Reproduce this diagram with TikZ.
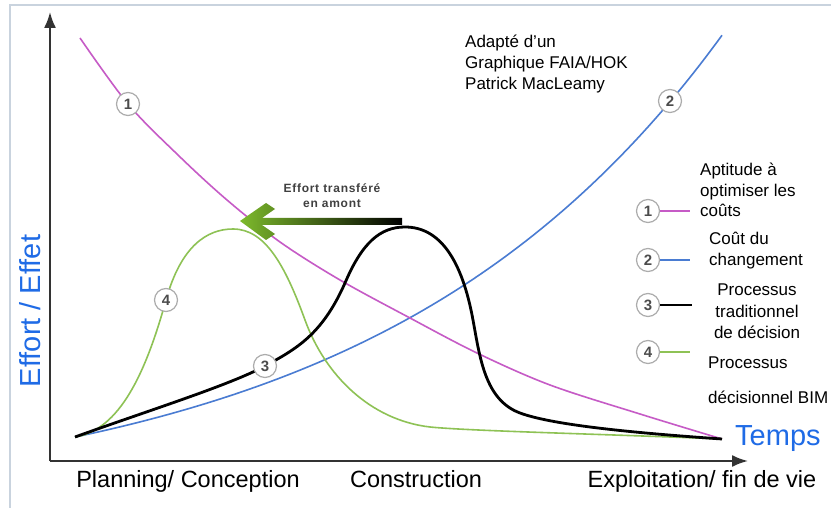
\documentclass[tikz,border=0pt]{standalone}
\usepackage{fontspec}
\setmainfont{Liberation Sans}
\usepackage{tikz}
\usetikzlibrary{arrows.meta}
\usetikzlibrary{positioning}
\usetikzlibrary{shadings}
\definecolor{courbeun}{HTML}{C65BC6}
\definecolor{courbedeux}{HTML}{4A7CD2}
\definecolor{courbequatre}{HTML}{8EC255}
\definecolor{bleutexte}{HTML}{1F6BE6}
\definecolor{cadre}{HTML}{C9D3DE}
\definecolor{fleche}{HTML}{7DBA2C}
\tikzstyle{numero}=[circle,draw=gray!65,line width=1.2pt,fill=white,
        minimum size=23pt,inner sep=0pt,text=black!70,
        font=\fontsize{15}{15}\selectfont\bfseries]
\tikzstyle{legende}=[align=left,inner sep=0pt,anchor=north west,
        font=\fontsize{17}{20.5}\selectfont]
\tikzstyle{phase}=[anchor=base,inner sep=0pt,font=\fontsize{23.5}{26}\selectfont]
\tikzstyle{axe}=[line width=2pt,draw=black!80,-{Latex[length=16pt,width=12pt]}]
\tikzstyle{coutun}=[courbeun,line width=1.6pt]
\tikzstyle{coutdeux}=[courbedeux,line width=1.6pt]
\tikzstyle{tradi}=[black,line width=2.8pt]
\tikzstyle{bim}=[courbequatre,line width=1.6pt]

\begin{document}
\begin{tikzpicture}[x=1pt,y=-1pt]
\useasboundingbox (0,0) rectangle (831,508);
\fill[white] (0,0) rectangle (831,508);
\draw[cadre,line width=1.5pt] (10,508) -- (10,5) -- (831,5);
%Axes
\coordinate (o) at (50,461);
\coordinate (haut) at (50,12);
\coordinate (droite) at (748,461);
\draw[axe] (o) -- (haut);
\draw[axe] (o) -- (droite);
%Curves
\draw[coutdeux] plot[domain=75:722,samples=90] (\x,{437-72.7*(exp(0.0029*(\x-75))-1)});
\draw[coutun] plot[smooth,tension=0.55] coordinates{(80,38) (128,104) (178,155) (227,200) (280,242) (340,280) (410,318) (477,353) (550,385) (640,414) (722,439)};
\draw[bim] (75,437) .. controls (120,430) and (146,372) .. (166,300)
        .. controls (181,246) and (207,229) .. (233,229)
        .. controls (265,229) and (285,265) .. (305,320)
        .. controls (325,375) and (370,420) .. (430,427)
        .. controls (470,431) and (600,434) .. (722,439);
\draw[tradi] (75,437) .. controls (150,410) and (230,385) .. (265,366)
        .. controls (296,349) and (322,335) .. (345,283)
        .. controls (362,243) and (380,227) .. (405,227)
        .. controls (440,227) and (462,260) .. (473,320)
        .. controls (480,358) and (485,400) .. (520,413)
        .. controls (550,424) and (620,432) .. (722,439);
%Curve labels
\node[numero] (n1) at (128,104) {1};
\node[numero] (n2) at (670,101) {2};
\node[numero] (n3) at (265,366) {3};
\node[numero] (n4) at (166,300) {4};
%Effort arrow
\shade[left color=fleche,right color=black] (240,221) -- (266,203) -- (275,209) -- (262,218) -- (402,218) -- (402,225) -- (262,225) -- (275,234) -- (266,240) -- cycle;
\node[text=black!75,align=center,font=\fontsize{12}{15}\selectfont\bfseries\addfontfeature{LetterSpace=6}] (transfert) at (332,196) {Effort transféré\\en amont};
%Source
\node[legende,font=\fontsize{17}{21}\selectfont] (source) at (465,35) {Adapté d’un\\Graphique FAIA/HOK\\Patrick MacLeamy};
%Legend
\node[numero] (l1) at (648,211) {1};
\node[numero] (l2) at (648,260) {2};
\node[numero] (l3) at (648,305) {3};
\node[numero] (l4) at (648,352) {4};
\coordinate (e1) at (690,211);
\coordinate (e2) at (690,260);
\coordinate (e3) at (692,305);
\coordinate (e4) at (690,352);
\draw[coutun] (l1) -- (e1);
\draw[coutdeux] (l2) -- (e2);
\draw[tradi] (l3) -- (e3);
\draw[bim] (l4) -- (e4);
\node[legende] (t1) at (700,163) {Aptitude à\\optimiser les\\coûts};
\node[legende] (t2) at (709,232) {Coût du\\changement};
\node[legende,align=center,anchor=north,font=\fontsize{17}{21.5}\selectfont] (t3) at (757,284) {Processus\\traditionnel\\de décision};
\node[legende] (t4) at (708,357) {Processus};
\node[legende] (t5) at (708,391) {décisionnel BIM};
%Axis titles
\node[anchor=base west,inner sep=0pt,text=bleutexte,font=\fontsize{29}{32}\selectfont] (temps) at (735,445) {Temps};
\node[rotate=90,anchor=base,inner sep=0pt,text=bleutexte,font=\fontsize{29}{32}\selectfont] (effort) at (40,311) {Effort / Effet};
\node[phase] (p1) at (188,487) {Planning/ Conception};
\node[phase] (p2) at (416,487) {Construction};
\node[phase] (p3) at (702,487) {Exploitation/ fin de vie};
\end{tikzpicture}
\end{document}
